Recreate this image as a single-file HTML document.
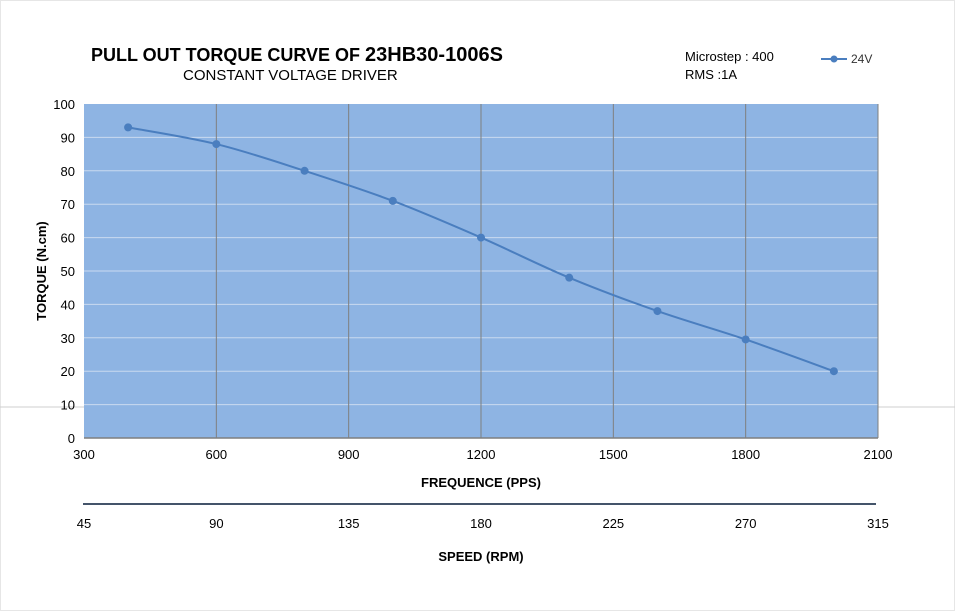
<!DOCTYPE html>
<html><head><meta charset="utf-8"><style>
html,body{margin:0;padding:0;background:#fff;}
svg{display:block;font-family:"Liberation Sans",Arial,sans-serif;}
</style></head><body>
<svg width="955" height="611" viewBox="0 0 955 611">
<rect x="0.5" y="0.5" width="954" height="610" fill="#fff" stroke="#e6e6e6"/>
<line x1="0" y1="407" x2="955" y2="407" stroke="#cfcfcf" stroke-width="1"/>
<text x="91" y="61" font-size="18" font-weight="bold">PULL OUT TORQUE CURVE OF <tspan font-size="20">23HB30-1006S</tspan></text>
<text x="183" y="80" font-size="15">CONSTANT VOLTAGE DRIVER</text>
<text x="685" y="61" font-size="13">Microstep : 400</text>
<text x="685" y="79" font-size="13">RMS :1A</text>
<g>
<line x1="821" y1="59" x2="847" y2="59" stroke="#4a7ebf" stroke-width="2"/>
<circle cx="834" cy="59" r="3.5" fill="#4a7ebf"/>
<text x="851" y="63" font-size="12" fill="#333">24V</text>
</g>
<rect x="84" y="104" width="794" height="334" fill="#8eb4e3"/>
<g id="grid"></g>
<g id="axes"></g>
<path id="curve" fill="none" stroke="#4a7ebf" stroke-width="2"/>
<g id="points"></g>
<text x="481" y="487" font-size="13" font-weight="bold" text-anchor="middle">FREQUENCE (PPS)</text>
<line x1="83" y1="504" x2="876" y2="504" stroke="#44546a" stroke-width="2"/>
<text x="481" y="561" font-size="13" font-weight="bold" text-anchor="middle">SPEED (RPM)</text>
<text transform="translate(46,271) rotate(-90)" font-size="13" font-weight="bold" text-anchor="middle">TORQUE (N.cm)</text>
</svg>
<script>
const freqs=[400,600,800,1000,1200,1400,1600,1800,2000];
const torque=[93,88,80,71,60,48,38,29.5,20];
const xTicks=[300,600,900,1200,1500,1800,2100];
const yTicks=[0,10,20,30,40,50,60,70,80,90,100];
const rpmTicks=[45,90,135,180,225,270,315];
const NS="http://www.w3.org/2000/svg";
const X0=84,X1=878,Y0=438,Y1=104;
function sx(v){return X0+(v-300)/(2100-300)*(X1-X0);}
function sy(v){return Y0-(v-0)/(100-0)*(Y0-Y1);}
function mk(t,a,p){const e=document.createElementNS(NS,t);for(const k in a)e.setAttribute(k,a[k]);p.appendChild(e);return e;}
const grid=document.getElementById('grid'),axes=document.getElementById('axes'),pts=document.getElementById('points');
yTicks.forEach(v=>{
 if(v>0&&v<100){const l=mk('line',{x1:X0,x2:X1,y1:sy(v),y2:sy(v),stroke:'#c9daf0','stroke-width':1},grid);
 
 }
 const t=mk('text',{x:X0-9,y:sy(v)+5,'font-size':13,'text-anchor':'end'},axes);t.textContent=v;
 
 
});
xTicks.forEach((v,i)=>{
 if(i>0){const l=mk('line',{x1:sx(v),x2:sx(v),y1:Y1,y2:Y0,stroke:'#7f7f7f','stroke-width':1},grid);
 
 }
 const t=mk('text',{x:sx(v),y:459,'font-size':13,'text-anchor':'middle'},axes);t.textContent=v;
 
 
});
rpmTicks.forEach((v,i)=>{
 const t=mk('text',{x:sx(xTicks[i]),y:528,'font-size':13,'text-anchor':'middle'},axes);t.textContent=v;
 
 
});
const bl=mk('line',{x1:X0,x2:X1,y1:Y0,y2:Y0,stroke:'#7f7f7f','stroke-width':1.5},axes);


const P=freqs.map((f,i)=>[sx(f),sy(torque[i])]);
let d='M'+P[0][0]+','+P[0][1];
for(let i=0;i<P.length-1;i++){
 const p0=P[i-1]||P[i],p1=P[i],p2=P[i+1],p3=P[i+2]||P[i+1];
 const c1=[p1[0]+(p2[0]-p0[0])/6,p1[1]+(p2[1]-p0[1])/6],c2=[p2[0]-(p3[0]-p1[0])/6,p2[1]-(p3[1]-p1[1])/6];
 d+=` C${c1[0]},${c1[1]} ${c2[0]},${c2[1]} ${p2[0]},${p2[1]}`;
}
document.getElementById('curve').setAttribute('d',d);
P.forEach(p=>{const c=mk('circle',{cx:p[0],cy:p[1],r:4,fill:'#4a7ebf'},pts);
 
 
});
</script>
</body></html>
